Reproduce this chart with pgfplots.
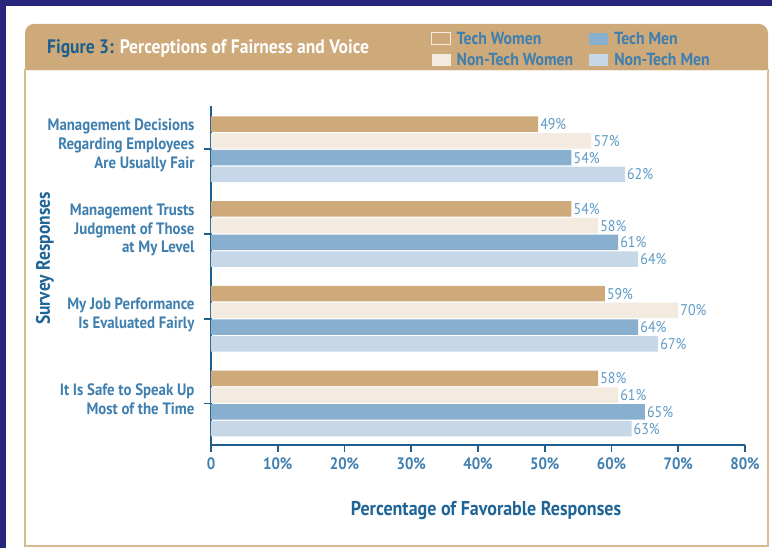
\documentclass[border=0pt]{standalone}
\usepackage{fontspec}
\setmainfont{PT Sans}[FakeStretch=0.9]
\usepackage{pgfplots}
\pgfplotsset{compat=1.18}
\definecolor{navyb}{HTML}{27267B}
\definecolor{tanc}{HTML}{CEA97A}
\definecolor{tanborder}{HTML}{D9BA90}
\definecolor{cream}{HTML}{F3EBDF}
\definecolor{techmen}{HTML}{89AFCE}
\definecolor{nontechmen}{HTML}{C6D8E8}
\definecolor{darkblue}{HTML}{1D5E8C}
\definecolor{labelblue}{HTML}{3F7FAF}
\definecolor{axisblue}{HTML}{1F6597}
\definecolor{valueblue}{HTML}{5E9AC6}
\begin{document}
\begin{tikzpicture}
\useasboundingbox (0pt,0pt) rectangle (772pt,548pt);
\fill[white] (0pt,0pt) rectangle (772pt,548pt);
\fill[navyb] (0pt,0pt) rectangle (6pt,548pt);
\fill[navyb] (0pt,542pt) rectangle (772pt,548pt);
\filldraw[fill=white, draw=tanborder, line width=1.6pt] (25pt,2pt) rectangle (768pt,478pt);
\fill[tanc] (25pt,477pt) [rounded corners=9pt] -- (25pt,524pt) -- (768pt,524pt) [sharp corners] -- (768pt,477pt) -- cycle;
\draw[cream, line width=1pt] (25pt,477.5pt) -- (768pt,477.5pt);
\node[anchor=base west, inner sep=0pt, font=\bfseries\fontsize{19.5}{22}\selectfont] at (47pt,494pt) {\textcolor{darkblue}{Figure 3:} \textcolor{white}{Perceptions of Fairness and Voice}};
\begin{axis}[
  at={(211pt,103pt)}, anchor=south west,
  scale only axis, width=534pt, height=339pt,
  xmin=0, xmax=80, ymin=-0.49, ymax=3.51,
  enlargelimits=false, clip=false,
  xbar, bar width=15.6pt,
  axis lines=left, axis line style={-, line width=1.8pt, darkblue},
  tick align=outside, major tick length=7pt,
  tick style={darkblue, line width=1.6pt},
  xtick={0,10,20,30,40,50,60,70,80},
  xticklabels={0,10\%,20\%,30\%,40\%,50\%,60\%,70\%,80\%},
  ytick={0,1,2,3},
  yticklabels={{It Is Safe to Speak Up\\Most of the Time},{My Job Performance\\Is Evaluated Fairly},{Management Trusts\\Judgment of Those\\at My Level},{Management Decisions\\Regarding Employees\\Are Usually Fair}},
  x tick label style={font=\bfseries\fontsize{16.5}{18}\selectfont, text=labelblue, yshift=-2pt},
  y tick label style={font=\bfseries\fontsize{16.5}{18.8}\selectfont, text=labelblue, align=right, xshift=-6pt, yshift=4pt},
  xlabel={Percentage of Favorable Responses},
  ylabel={Survey Responses},
  label style={font=\bfseries\fontsize{20}{22}\selectfont, text=axisblue},
  xlabel style={at={(axis description cs:0.515,-0.192)}, anchor=center},
  ylabel style={at={(axis description cs:-0.311,0.55)}, anchor=center, font=\bfseries\fontsize{19.5}{22}\selectfont},
  nodes near coords={\pgfmathprintnumber[assume math mode=true]{\pgfplotspointmeta}\%},
  point meta=x,
  every node near coord/.append style={font=\fontsize{15.5}{17}\selectfont, text=valueblue, inner sep=2pt},
  legend columns=2,
  legend cell align=left,
  legend style={at={(rel axis cs:0.412,1.225)}, anchor=north west, draw=none, fill=none, inner sep=0pt,
    font=\bfseries\fontsize{17.5}{19}\selectfont, text=labelblue,
    /tikz/every even column/.append style={column sep=14pt}, row sep=3pt},
  legend image code/.code={\fill[#1] (0pt,-6pt) rectangle (19pt,6pt); \path (19pt,0pt) -- (23pt,0pt);},
]
\addplot[fill=tanc, draw=none, bar shift=25.1pt,
  legend image code/.code={\filldraw[fill=tanc, draw=cream, line width=0.9pt] (0pt,-6pt) rectangle (19pt,6pt); \path (19pt,0pt) -- (23pt,0pt);}]
  coordinates {(58,0) (59,1) (54,2) (49,3)};
\addlegendentry{Tech Women}
\addplot[fill=techmen, draw=none, bar shift=-8.4pt]
  coordinates {(65,0) (64,1) (61,2) (54,3)};
\addlegendentry{Tech Men}
\addplot[fill=cream, draw=none, bar shift=8.4pt]
  coordinates {(61,0) (70,1) (58,2) (57,3)};
\addlegendentry{Non-Tech Women}
\addplot[fill=nontechmen, draw=none, bar shift=-25.1pt]
  coordinates {(63,0) (67,1) (64,2) (62,3)};
\addlegendentry{Non-Tech Men}
\end{axis}
\end{tikzpicture}
\end{document}
